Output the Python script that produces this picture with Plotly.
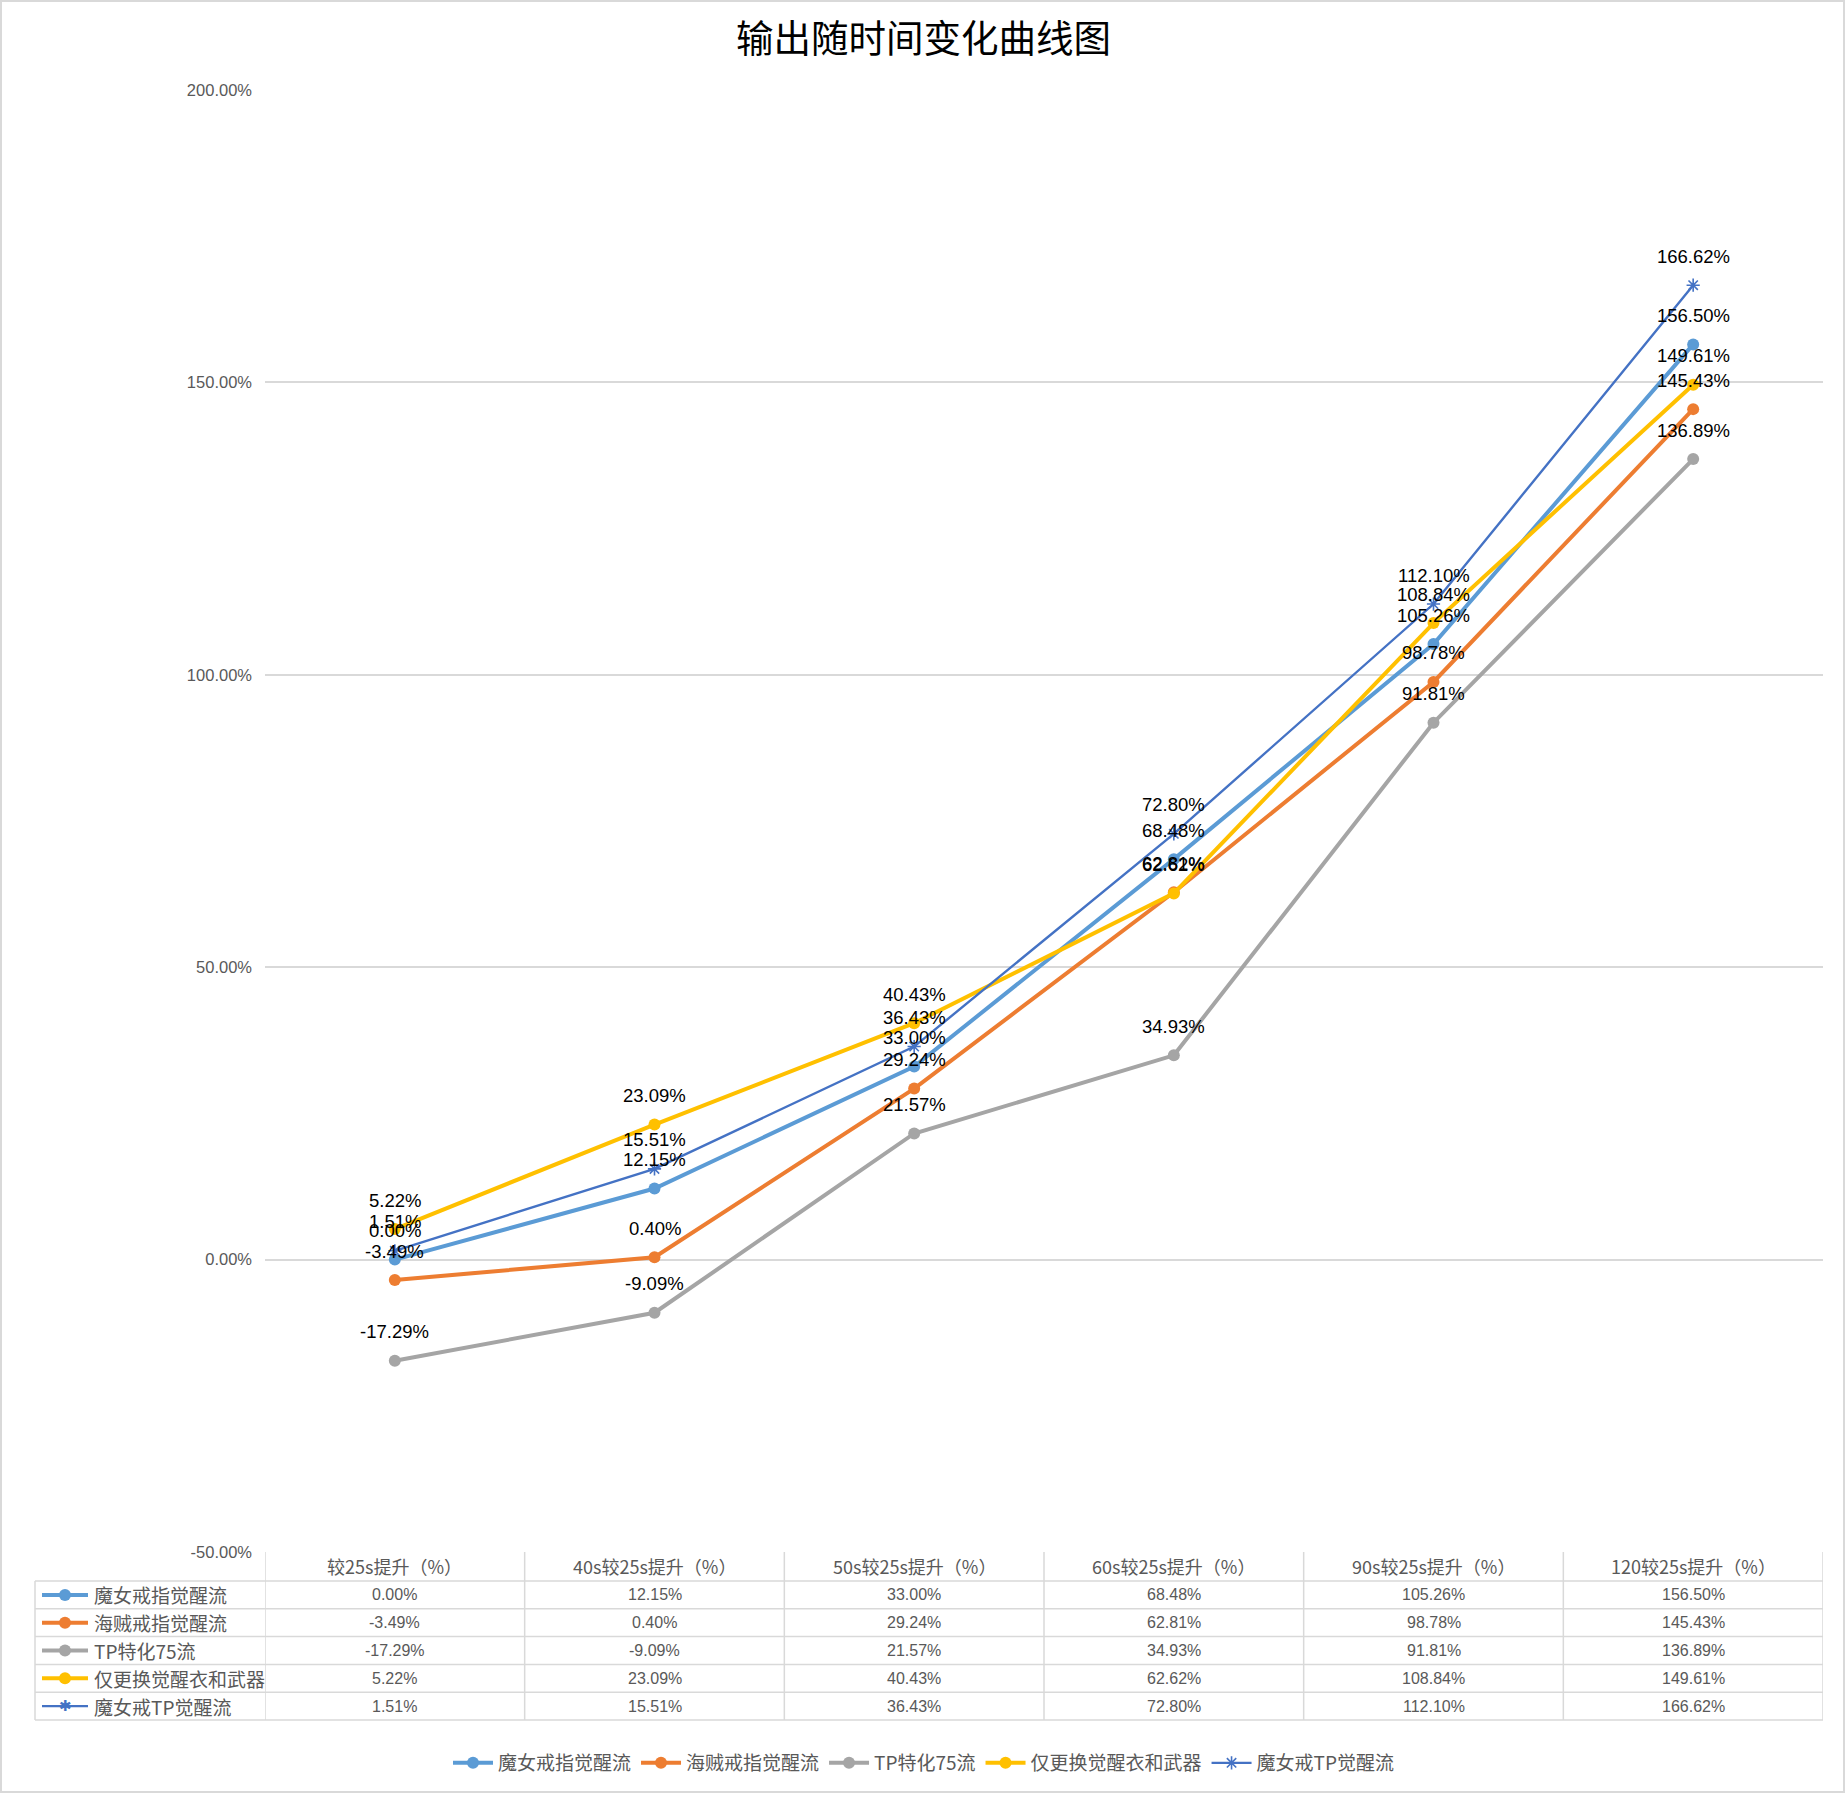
import plotly.graph_objects as go

# chart data (percent values)
categories = ["较25s提升（%）", "40s较25s提升（%）", "50s较25s提升（%）",
              "60s较25s提升（%）", "90s较25s提升（%）", "120较25s提升（%）"]
series_names = ["魔女戒指觉醒流", "海贼戒指觉醒流", "TP特化75流", "仅更换觉醒衣和武器", "魔女戒TP觉醒流"]
witch_ring = [0.00, 12.15, 33.00, 68.48, 105.26, 156.50]
pirate_ring = [-3.49, 0.40, 29.24, 62.81, 98.78, 145.43]
tp_75 = [-17.29, -9.09, 21.57, 34.93, 91.81, 136.89]
awaken_gear = [5.22, 23.09, 40.43, 62.62, 108.84, 149.61]
witch_tp = [1.51, 15.51, 36.43, 72.80, 112.10, 166.62]
y_ticks = [-50, 0, 50, 100, 150, 200]

all_values = [witch_ring, pirate_ring, tp_75, awaken_gear, witch_tp]
colors = ["#5B9BD5", "#ED7D31", "#A5A5A5", "#FFC000", "#4472C4"]

W, H = 1847, 1794
ML, MR, MT, MB = 265, 24, 90, 242
PW = W - ML - MR
PH = H - MT - MB


def px_x(px):
    return (px - ML) / PW


def px_y(py):
    return (H - MB - py) / PH


fig = go.Figure()

for i, (name, vals) in enumerate(zip(series_names, all_values)):
    if i == 4:
        marker = dict(symbol="asterisk-open", size=11, color=colors[i],
                      line=dict(color=colors[i], width=1.6))
        line = dict(color=colors[i], width=2.4)
    else:
        marker = dict(symbol="circle", size=12, color=colors[i])
        line = dict(color=colors[i], width=4)
    fig.add_trace(go.Scatter(
        x=categories, y=vals, name=name, mode="lines+markers",
        line=line, marker=marker, cliponaxis=False,
    ))

annotations = []
shapes = []

# data labels above each point
label_font = dict(family="Liberation Sans, Noto Sans", size=18.5, color="#000000")
for vals in all_values:
    for c, v in zip(categories, vals):
        annotations.append(dict(xref="x", yref="y", x=c, y=v, yshift=29,
                                text="%.2f%%" % v, showarrow=False,
                                xanchor="center", yanchor="middle", font=label_font))

# data table under the plot
grid_col = "#D9D9D9"
table_left = px_x(35)
header_top = 1552
row_h = 27.8
row_tops = [1581 + k * row_h for k in range(6)]

for k in range(len(categories) + 1):
    shapes.append(dict(type="line", xref="x", yref="paper",
                       x0=k - 0.5, x1=k - 0.5,
                       y0=px_y(header_top), y1=px_y(row_tops[-1]),
                       line=dict(color=grid_col, width=1.5)))
shapes.append(dict(type="line", xref="paper", yref="paper",
                   x0=table_left, x1=table_left,
                   y0=px_y(row_tops[0]), y1=px_y(row_tops[-1]),
                   line=dict(color=grid_col, width=1.5)))
for t in row_tops:
    shapes.append(dict(type="line", xref="paper", yref="paper",
                       x0=table_left, x1=1,
                       y0=px_y(t), y1=px_y(t),
                       line=dict(color=grid_col, width=1.5)))

name_font = dict(family="Noto Sans CJK SC", size=19, color="#595959")
head_font = dict(family="Noto Sans CJK SC", size=18, color="#595959")
num_font = dict(family="Liberation Sans", size=16, color="#595959")
for c in categories:
    annotations.append(dict(xref="x", yref="paper", x=c,
                            y=px_y(header_top + 14.5), text=c, showarrow=False,
                            xanchor="center", yanchor="middle", font=head_font))
for r, (name, vals) in enumerate(zip(series_names, all_values)):
    yc = px_y(row_tops[r] + row_h / 2)
    for c, v in zip(categories, vals):
        annotations.append(dict(xref="x", yref="paper", x=c, y=yc,
                                text="%.2f%%" % v, showarrow=False,
                                xanchor="center", yanchor="middle", font=num_font))
    annotations.append(dict(xref="paper", yref="paper", x=px_x(92), y=yc,
                            xanchor="left", yanchor="middle", text=name,
                            showarrow=False, font=name_font))
    # legend key inside the table
    shapes.append(dict(type="line", xref="paper", yref="paper",
                       x0=px_x(42), x1=px_x(88), y0=yc, y1=yc,
                       line=dict(color=colors[r], width=4 if r < 4 else 2.4)))
    if r < 4:
        shapes.append(dict(type="circle", xref="paper", yref="paper",
                           xsizemode="pixel", ysizemode="pixel",
                           xanchor=px_x(65), yanchor=yc,
                           x0=-6, x1=6, y0=-6, y1=6,
                           fillcolor=colors[r], line=dict(width=0)))
    else:
        annotations.append(dict(xref="paper", yref="paper", x=px_x(65), y=yc,
                                text="✱", showarrow=False,
                                xanchor="center", yanchor="middle",
                                font=dict(family="DejaVu Sans", size=15, color=colors[r])))

# light outer border
shapes.append(dict(type="rect", xref="paper", yref="paper",
                   x0=px_x(1), x1=px_x(W - 3), y0=px_y(H - 2), y1=px_y(1),
                   line=dict(color="#D9D9D9", width=2)))

fig.update_layout(
    width=W, height=H,
    margin=dict(l=ML, r=MR, t=MT, b=MB),
    paper_bgcolor="white", plot_bgcolor="white",
    title=dict(text="输出随时间变化曲线图", x=0.5, xanchor="center",
               y=1 - 39 / H, yanchor="middle",
               font=dict(family="Noto Sans CJK SC", size=37.5, color="#000000")),
    xaxis=dict(type="category", categoryorder="array", categoryarray=categories,
               range=[-0.5, len(categories) - 0.5], showticklabels=False,
               showgrid=False, zeroline=False, showline=False),
    yaxis=dict(range=[-50, 200], tickvals=y_ticks,
               ticktext=["%.2f%%" % v for v in y_ticks],
               showgrid=True, gridcolor="#D9D9D9", gridwidth=1.5,
               zeroline=False, showline=False, ticks="", ticklabelstandoff=12,
               tickfont=dict(family="Liberation Sans Narrow, Liberation Sans", size=16.5, color="#595959")),
    legend=dict(orientation="h", x=px_x(W / 2), xanchor="center",
                y=px_y(1763), yanchor="middle",
                font=dict(family="Noto Sans CJK SC", size=19, color="#595959"),
                itemwidth=40, tracegroupgap=0),
    shapes=shapes,
    annotations=annotations,
    showlegend=True,
)

fig.write_html("out.html", config={"displayModeBar": False},
               post_script="document.body.style.margin='0';")
